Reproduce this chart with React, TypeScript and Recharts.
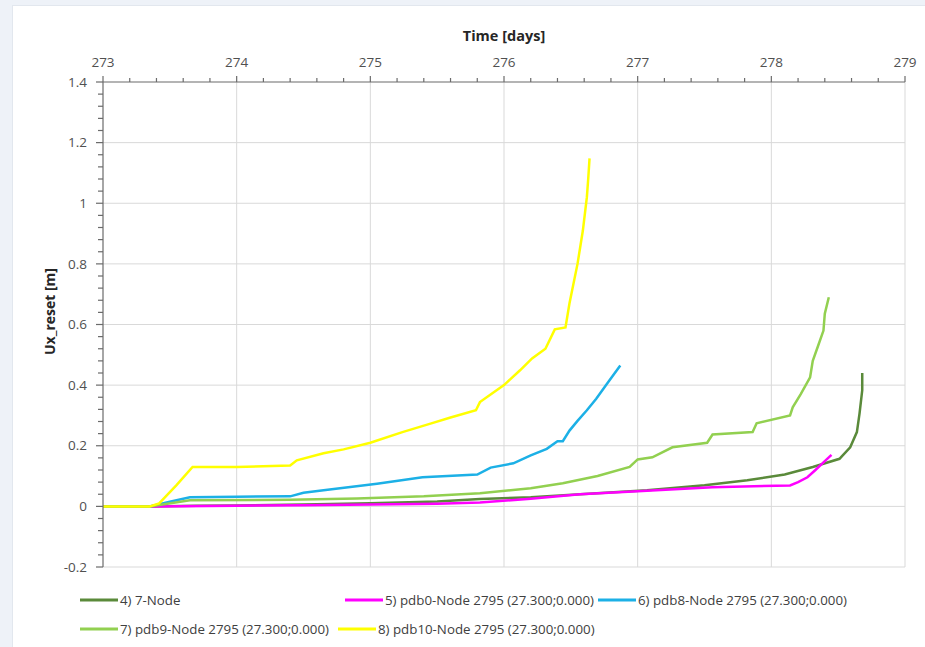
import React from 'react';
import { LineChart, Line, XAxis, YAxis, CartesianGrid, Legend } from 'recharts';

// ---- axis definitions ----
const majorDays = [273, 274, 275, 276, 277, 278, 279];
const minorDayStep = 0.2;
const majorUx = [-0.2, 0, 0.2, 0.4, 0.6, 0.8, 1, 1.2, 1.4];
const minorUxStep = 0.04;

// ---- 4) 7-Node ----
const node7Days = [273, 273.35, 273.7, 274.0, 274.5, 275.0, 275.5, 275.82, 276.2, 276.57, 277.07, 277.5, 277.82, 278.1, 278.31, 278.51, 278.59, 278.64, 278.66, 278.68, 278.68];
const node7Ux = [0, 0, 0.002, 0.003, 0.006, 0.01, 0.016, 0.024, 0.03, 0.04, 0.053, 0.07, 0.086, 0.105, 0.13, 0.157, 0.195, 0.245, 0.307, 0.383, 0.44];

// ---- 5) pdb0-Node 2795 ----
const pdb0Days = [273, 273.35, 274.0, 274.5, 275.0, 275.5, 275.82, 276.2, 276.57, 277.0, 277.56, 278.14, 278.2, 278.27, 278.33, 278.39, 278.45];
const pdb0Ux = [0, 0, 0.002, 0.004, 0.006, 0.009, 0.013, 0.025, 0.04, 0.05, 0.063, 0.069, 0.08, 0.096, 0.12, 0.145, 0.17];

// ---- 6) pdb8-Node 2795 ----
const pdb8Days = [273, 273.35, 273.5, 273.65, 274.0, 274.4, 274.5, 274.65, 275.05, 275.39, 275.8, 275.9, 276.07, 276.2, 276.32, 276.4, 276.44, 276.49, 276.55, 276.62, 276.69, 276.78, 276.87];
const pdb8Ux = [0, 0, 0.015, 0.03, 0.032, 0.033, 0.045, 0.053, 0.075, 0.096, 0.105, 0.128, 0.142, 0.168, 0.19, 0.215, 0.215, 0.25, 0.282, 0.317, 0.355, 0.41, 0.465];

// ---- 7) pdb9-Node 2795 ----
const pdb9Days = [273, 273.35, 273.65, 274.4, 274.9, 275.4, 275.82, 276.2, 276.44, 276.7, 276.94, 277.0, 277.11, 277.26, 277.52, 277.56, 277.86, 277.89, 278.14, 278.16, 278.22, 278.29, 278.31, 278.35, 278.39, 278.4, 278.43];
const pdb9Ux = [0, 0, 0.02, 0.022, 0.026, 0.033, 0.043, 0.06, 0.076, 0.1, 0.13, 0.155, 0.162, 0.195, 0.21, 0.237, 0.245, 0.274, 0.3, 0.327, 0.37, 0.426, 0.48, 0.53, 0.58, 0.636, 0.69];

// ---- 8) pdb10-Node 2795 ----
const pdb10Days = [273, 273.35, 273.42, 273.55, 273.67, 274.0, 274.4, 274.45, 274.65, 274.8, 275.0, 275.24, 275.45, 275.6, 275.79, 275.82, 276.0, 276.12, 276.21, 276.31, 276.38, 276.46, 276.49, 276.55, 276.57, 276.59, 276.605, 276.62, 276.63, 276.64];
const pdb10Ux = [0, 0, 0.01, 0.07, 0.13, 0.13, 0.135, 0.152, 0.175, 0.188, 0.21, 0.245, 0.273, 0.293, 0.317, 0.344, 0.4, 0.449, 0.488, 0.52, 0.584, 0.59, 0.67, 0.8, 0.855, 0.91, 0.965, 1.02, 1.08, 1.148];

const FONT = '"Open Sans", "Noto Sans", "Liberation Sans", sans-serif';
const AXIS_COLOR = '#6b6b6b';
const TICK_TEXT = '#505050';
const TITLE_TEXT = '#262626';

type Series = { name: string; color: string; days: number[]; ux: number[] };

const series: Series[] = [
  { name: '4) 7-Node', color: '#5a8a3a', days: node7Days, ux: node7Ux },
  { name: '5) pdb0-Node 2795 (27.300;0.000)', color: '#ff00ff', days: pdb0Days, ux: pdb0Ux },
  { name: '6) pdb8-Node 2795 (27.300;0.000)', color: '#1cb0e6', days: pdb8Days, ux: pdb8Ux },
  { name: '7) pdb9-Node 2795 (27.300;0.000)', color: '#92d050', days: pdb9Days, ux: pdb9Ux },
  { name: '8) pdb10-Node 2795 (27.300;0.000)', color: '#ffff00', days: pdb10Days, ux: pdb10Ux },
];

const toPoints = (days: number[], ux: number[]) => days.map((t, i) => ({ t, u: ux[i] }));

const stepTicks = (from: number, to: number, step: number) =>
  Array.from({ length: Math.round((to - from) / step) + 1 }, (_, i) => Number((from + i * step).toFixed(3)));

const xTicks = stepTicks(majorDays[0], majorDays[majorDays.length - 1], minorDayStep);
const yTicks = stepTicks(majorUx[0], majorUx[majorUx.length - 1], minorUxStep);

const isMajor = (v: number, list: number[]) => list.some((m) => Math.abs(m - v) < 1e-6);
const fmtUx = (v: number) => String(Number(v.toFixed(1)));

function TopTick(props: any) {
  const { x, y, payload } = props;
  const major = isMajor(payload.value, majorDays);
  return (
    <g>
      <line x1={x} x2={x} y1={y} y2={y - (major ? 6 : 4)} stroke={AXIS_COLOR} strokeWidth={1.2} />
      {major && (
        <text x={x} y={y - 15} textAnchor="middle" fill={TICK_TEXT} fontSize={13.5} fontFamily={FONT}>
          {Math.round(payload.value)}
        </text>
      )}
    </g>
  );
}

function LeftTick(props: any) {
  const { x, y, payload } = props;
  const major = isMajor(payload.value, majorUx);
  return (
    <g>
      <line x1={x} x2={x - (major ? 7 : 5)} y1={y} y2={y} stroke={AXIS_COLOR} strokeWidth={1.2} />
      {major && (
        <text x={x - 16} y={y} dy="0.35em" textAnchor="end" fill={TICK_TEXT} fontSize={13.5} fontFamily={FONT}>
          {fmtUx(payload.value)}
        </text>
      )}
    </g>
  );
}

function XTitle(props: any) {
  const vb = props.viewBox ?? { x: 0, y: 0, width: 0, height: 0 };
  return (
    <text x={vb.x + vb.width / 2} y={vb.y + 11} textAnchor="middle" fill={TITLE_TEXT} fontSize={14.5} fontWeight={700} fontFamily={FONT}>
      Time [days]
    </text>
  );
}

function YTitle(props: any) {
  const vb = props.viewBox ?? { x: 0, y: 0, width: 0, height: 0 };
  const cx = vb.x + 7;
  const cy = vb.y + vb.height / 2 - 13;
  return (
    <text
      x={cx}
      y={cy}
      transform={`rotate(-90, ${cx}, ${cy})`}
      textAnchor="middle"
      dy="0.35em"
      fill={TITLE_TEXT}
      fontSize={14}
      fontWeight={700}
      fontFamily={FONT}
    >
      Ux_reset [m]
    </text>
  );
}

const legendSlots = [
  { left: 80, top: 0 },
  { left: 345, top: 0 },
  { left: 598, top: 0 },
  { left: 80, top: 29 },
  { left: 338, top: 29 },
];

function SeriesLegend() {
  return (
    <div style={{ position: 'relative', width: 925, height: 52 }}>
      {series.map((s, i) => (
        <div
          key={s.name}
          style={{
            position: 'absolute',
            left: legendSlots[i].left,
            top: legendSlots[i].top,
            height: 20,
            display: 'flex',
            alignItems: 'center',
            whiteSpace: 'nowrap',
          }}
        >
          <svg width={38} height={4} style={{ display: 'block' }}>
            <line x1={0} x2={38} y1={2} y2={2} stroke={s.color} strokeWidth={3} />
          </svg>
          <span style={{ marginLeft: 2, fontSize: 13.3, color: '#404040', fontFamily: FONT, lineHeight: '20px' }}>
            {s.name}
          </span>
        </div>
      ))}
    </div>
  );
}

export default function App() {
  return (
    <div style={{ position: 'absolute', left: 0, top: 0, width: 925, height: 647, background: '#eef2f8', overflow: 'hidden' }}>
      <div
        style={{
          position: 'absolute',
          left: 12,
          top: 5,
          width: 925,
          height: 650,
          background: '#ffffff',
          borderLeft: '1px solid #e2e7ee',
          borderTop: '1px solid #e2e7ee',
        }}
      />
      <div style={{ position: 'absolute', left: 0, top: 0 }}>
        <LineChart width={925} height={647} margin={{ top: 30, right: 20, bottom: 80, left: 43 }}>
          <CartesianGrid
            stroke="#d9d9d9"
            horizontalValues={majorUx.slice(0, -1)}
            verticalValues={majorDays.slice(1)}
          />
          <XAxis
            xAxisId={0}
            type="number"
            dataKey="t"
            orientation="top"
            domain={[majorDays[0], majorDays[majorDays.length - 1]]}
            ticks={xTicks}
            interval={0}
            height={52}
            tickSize={0}
            tickMargin={0}
            tickLine={false}
            tick={<TopTick />}
            axisLine={{ stroke: AXIS_COLOR, strokeWidth: 1.2 }}
            allowDataOverflow
            label={XTitle}
          />
          <YAxis
            yAxisId={0}
            type="number"
            domain={[majorUx[0], majorUx[majorUx.length - 1]]}
            ticks={yTicks}
            interval={0}
            width={60}
            tickSize={0}
            tickMargin={0}
            tickLine={false}
            tick={<LeftTick />}
            axisLine={{ stroke: AXIS_COLOR, strokeWidth: 1.2 }}
            allowDataOverflow
            label={YTitle}
          />
          <Legend
            layout="vertical"
            align="center"
            verticalAlign="middle"
            wrapperStyle={{ left: 0, top: 590, width: 925 }}
            content={() => <SeriesLegend />}
          />
          {series.map((s) => (
            <Line
              key={s.name}
              name={s.name}
              data={toPoints(s.days, s.ux)}
              dataKey="u"
              type="linear"
              stroke={s.color}
              strokeWidth={2.5}
              dot={false}
              activeDot={false}
              isAnimationActive={false}
            />
          ))}
        </LineChart>
      </div>
    </div>
  );
}
